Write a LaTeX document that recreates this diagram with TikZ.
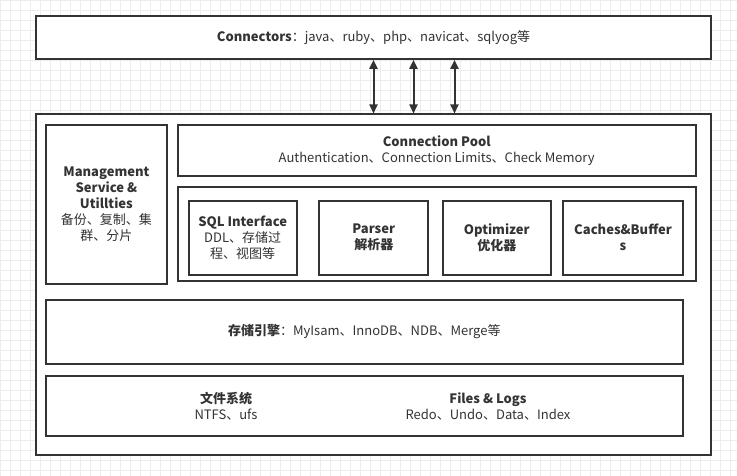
\documentclass[tikz,border=0pt]{standalone}
\usepackage{fontspec}
\setmainfont{Noto Sans CJK SC}
\usetikzlibrary{arrows.meta}
\definecolor{ink}{HTML}{333333}
\definecolor{gridline}{HTML}{EDEDED}

\begin{document}
\begin{tikzpicture}[x=1pt,y=-1pt,
    box/.style={draw=ink,line width=2pt,inner sep=2pt,text=ink,align=center,font=\fontsize{13}{16}\selectfont},
    lbl/.style={text=ink,align=center,font=\fontsize{13}{16}\selectfont},
    link/.style={draw=ink,line width=2pt,{Triangle[length=9pt,width=8pt]}-{Triangle[length=9pt,width=8pt]}}]
  \useasboundingbox (0,0) rectangle (737,476);
  % background grid
  \foreach \gx in {0,10,...,730} \draw[gridline] (\gx,0) -- (\gx,476);
  \foreach \gy in {0,10,...,470} \draw[gridline] (0,\gy) -- (737,\gy);

  \node[box,fill=white,minimum width=675,minimum height=43] (conn) at (373.5,37.3) {\textbf{Connectors}：java、ruby、php、navicat、sqlyog等};
  \node[box,fill=white,minimum width=675,minimum height=340] (server) at (373.5,284.5) {};

  \node[box,minimum width=121,minimum height=159] (mgmt) at (106.4,204.3) {\textbf{Management}\\\textbf{Service \&}\\\textbf{Utillties}\\备份、复制、集\\群、分片};
  \node[box,minimum width=518,minimum height=51] (pool) at (436.7,150.3) {\textbf{Connection Pool}\\Authentication、Connection Limits、Check Memory};
  \node[box,minimum width=518,minimum height=94] (query) at (436.7,234) {};
  \node[box,minimum width=108,minimum height=74] (sql) at (242.7,237.8) {\textbf{SQL Interface}\\DDL、存储过\\程、视图等};
  \node[box,minimum width=109,minimum height=74,font=\fontsize{13}{16}\selectfont\bfseries] (parser) at (373.8,237.8) {Parser\\解析器};
  \node[box,minimum width=108,minimum height=74,font=\fontsize{13}{16}\selectfont\bfseries] (optim) at (496.8,237.8) {Optimizer\\优化器};
  \node[box,minimum width=120.6,minimum height=74,font=\fontsize{13}{16}\selectfont\bfseries] (cache) at (623,237.8) {Caches\&Buffer\\s};
  \node[box,minimum width=637,minimum height=64] (engine) at (364.3,331.7) {\textbf{存储引擎}：MyIsam、InnoDB、NDB、Merge等};
  \node[box,minimum width=637,minimum height=60] (files) at (364.3,405.8) {};
  \node[lbl] (fs) at (226,406) {\textbf{文件系统}\\NTFS、ufs};
  \node[lbl] (logs) at (488,406) {\textbf{Files \& Logs}\\Redo、Undo、Data、Index};

  \foreach \dx in {0,40,81}
    \draw[link] ([xshift=\dx]conn.south) -- ([xshift=\dx]server.north);
\end{tikzpicture}
\end{document}
